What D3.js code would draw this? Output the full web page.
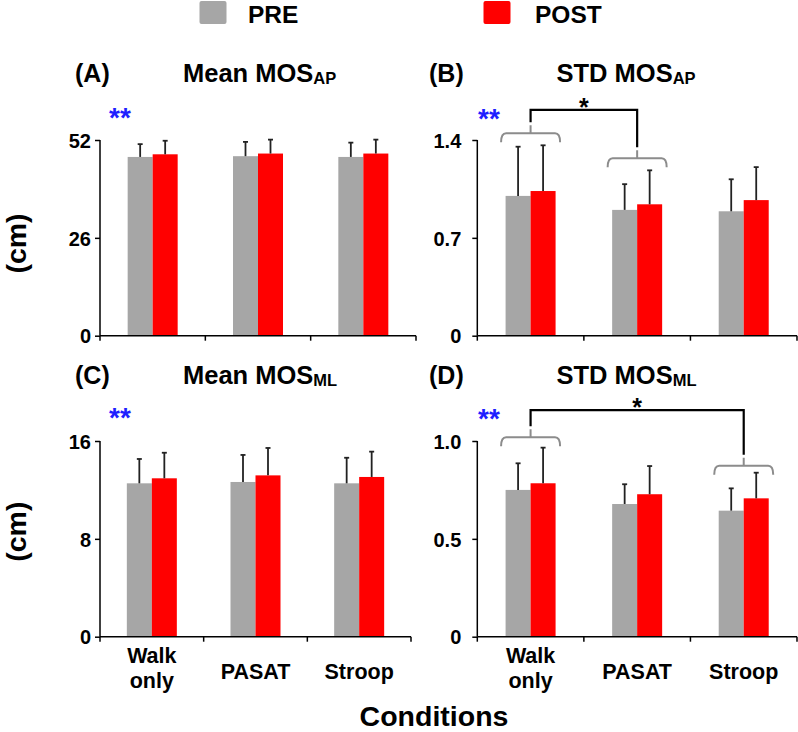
<!DOCTYPE html>
<html>
<head>
<meta charset="utf-8">
<script src="https://cdn.jsdelivr.net/npm/d3@7"></script>
<style>
  html, body { margin: 0; padding: 0; background: #fff; }
  svg { display: block; font-family: "Liberation Sans", Arial, sans-serif; }
</style>
</head>
<body>
<svg id="chart" width="798" height="732"></svg>
<script>
// ---------------- DATA ----------------
const categories = ["Walk only", "PASAT", "Stroop"];
const seriesNames = ["PRE", "POST"];

// (A) Mean MOS_AP
const meanAP_pre  = [47.5, 47.7, 47.5];
const meanAP_post = [48.2, 48.4, 48.4];
const meanAP_preSD  = [3.4, 3.8, 3.8];
const meanAP_postSD = [3.6, 3.7, 3.7];
const meanAP_ticks = [0, 26, 52];

// (B) STD MOS_AP
const stdAP_pre  = [1.00, 0.90, 0.89];
const stdAP_post = [1.035, 0.94, 0.97];
const stdAP_preSD  = [0.352, 0.184, 0.229];
const stdAP_postSD = [0.327, 0.243, 0.236];
const stdAP_ticks = [0, 0.7, 1.4];

// (C) Mean MOS_ML
const meanML_pre  = [12.54, 12.65, 12.54];
const meanML_post = [12.95, 13.19, 13.06];
const meanML_preSD  = [1.99, 2.21, 2.09];
const meanML_postSD = [2.09, 2.24, 2.07];
const meanML_ticks = [0, 8, 16];

// (D) STD MOS_ML
const stdML_pre  = [0.750, 0.678, 0.644];
const stdML_post = [0.784, 0.728, 0.707];
const stdML_preSD  = [0.136, 0.101, 0.114];
const stdML_postSD = [0.182, 0.144, 0.131];
const stdML_ticks = [0, 0.5, 1.0];

// significance annotations: brace levels (data units) per category, bracket top level
const sigB = { braces: [[0, 1.448], [1, 1.269]], from: 0, to: 1, top: 1.615 };
const sigD = { braces: [[0, 1.019], [2, 0.874]], from: 0, to: 2, top: 1.158 };

// ---------------- STYLE / LAYOUT ----------------
const colors = { PRE: "#a6a6a6", POST: "#ff0000" };
const svg = d3.select("#chart");

const panels = [
  { letter: "(A)", title: "Mean MOS", sub: "AP", pre: meanAP_pre, post: meanAP_post, preSD: meanAP_preSD, postSD: meanAP_postSD,
    ticks: meanAP_ticks, fmt: d => String(d), x0: 100, x1: 416, yTop: 140, yBot: 335.7, lblGap: 9,
    letterX: 75, titleX: 183, titleY: 82, starsX: 110, starsTop: 107, sig: null, xLabels: false, cmY: 243.5 },
  { letter: "(B)", title: "STD MOS", sub: "AP", pre: stdAP_pre, post: stdAP_post, preSD: stdAP_preSD, postSD: stdAP_postSD,
    ticks: stdAP_ticks, fmt: d => d === 0 ? "0" : d.toFixed(1), x0: 477.3, x1: 797, yTop: 140, yBot: 335.7, lblGap: 16,
    letterX: 429, titleX: 556.5, titleY: 82, starsX: 479, starsTop: 108, sig: sigB, xLabels: false, cmY: null },
  { letter: "(C)", title: "Mean MOS", sub: "ML", pre: meanML_pre, post: meanML_post, preSD: meanML_preSD, postSD: meanML_postSD,
    ticks: meanML_ticks, fmt: d => String(d), x0: 100, x1: 411, yTop: 441, yBot: 636.7, lblGap: 9,
    letterX: 75, titleX: 183, titleY: 383.5, starsX: 110, starsTop: 407, sig: null, xLabels: true, cmY: 531.7 },
  { letter: "(D)", title: "STD MOS", sub: "ML", pre: stdML_pre, post: stdML_post, preSD: stdML_preSD, postSD: stdML_postSD,
    ticks: stdML_ticks, fmt: d => d === 0 ? "0" : d.toFixed(1), x0: 477.3, x1: 797, yTop: 441, yBot: 636.7, lblGap: 16,
    letterX: 429, titleX: 556.5, titleY: 383.5, starsX: 479, starsTop: 408, sig: sigD, xLabels: true, cmY: null }
];

// ---------------- LEGEND ----------------
const legendItems = [
  { name: seriesNames[0], sx: 199.5, tx: 248 },
  { name: seriesNames[1], sx: 483.5, tx: 535 }
];
legendItems.forEach(it => {
  svg.append("rect").attr("x", it.sx).attr("y", 1).attr("width", 27).attr("height", 23)
    .attr("rx", 2).attr("fill", colors[it.name]);
  svg.append("text").attr("x", it.tx).attr("y", 22.5).attr("font-size", 24.5).attr("font-weight", "bold")
    .attr("fill", "#000").text(it.name);
});

// ---------------- PANELS ----------------
panels.forEach(p => {
  const g = svg.append("g");
  const yMax = p.ticks[p.ticks.length - 1];
  const y = d3.scaleLinear().domain([0, yMax]).range([p.yBot, p.yTop]);
  const x = d3.scaleBand().domain(categories).range([p.x0, p.x1]).paddingInner(0).paddingOuter(0);
  const bw = 25;
  const xs = d3.scaleBand().domain(seriesNames).range([x.bandwidth() / 2 - bw, x.bandwidth() / 2 + bw]);

  const rows = [];
  categories.forEach((c, i) => {
    rows.push({ cat: c, s: "PRE", v: p.pre[i], sd: p.preSD[i] });
    rows.push({ cat: c, s: "POST", v: p.post[i], sd: p.postSD[i] });
  });

  // bars
  g.selectAll("rect.bar").data(rows).enter().append("rect")
    .attr("x", d => x(d.cat) + xs(d.s))
    .attr("y", d => y(d.v))
    .attr("width", xs.bandwidth())
    .attr("height", d => y(0) - y(d.v))
    .attr("fill", d => colors[d.s]);

  // error bars (upper only)
  rows.forEach(d => {
    const cx = x(d.cat) + xs(d.s) + xs.bandwidth() / 2;
    g.append("line").attr("x1", cx).attr("x2", cx).attr("y1", y(d.v)).attr("y2", y(d.v + d.sd))
      .attr("stroke", "#222").attr("stroke-width", 1.8);
    g.append("line").attr("x1", cx - 2.5).attr("x2", cx + 2.5).attr("y1", y(d.v + d.sd)).attr("y2", y(d.v + d.sd))
      .attr("stroke", "#222").attr("stroke-width", 1.8);
  });

  // y axis
  const yAxis = d3.axisLeft(y).tickValues(p.ticks).tickSize(5).tickPadding(p.lblGap - 5).tickFormat(p.fmt);
  const ya = g.append("g").attr("transform", `translate(${p.x0},0)`).call(yAxis);
  ya.select(".domain").attr("d", `M-0.0,${p.yBot}V${p.yTop}`).attr("stroke", "#000").attr("stroke-width", 1.5);
  ya.selectAll(".tick line").attr("stroke", "#000").attr("stroke-width", 1.5);
  ya.selectAll(".tick text").attr("font-size", 20).attr("font-weight", "bold").attr("fill", "#000")
    .attr("font-family", "Liberation Sans, Arial, sans-serif").attr("dy", "0.36em");

  // x axis (ticks at band boundaries)
  g.append("line").attr("x1", p.x0).attr("x2", p.x1).attr("y1", p.yBot).attr("y2", p.yBot)
    .attr("stroke", "#000").attr("stroke-width", 1.5);
  const bounds = categories.map(c => x(c)).concat([p.x1]);
  g.selectAll("line.xt").data(bounds).enter().append("line")
    .attr("x1", d => d).attr("x2", d => d).attr("y1", p.yBot).attr("y2", p.yBot + 5)
    .attr("stroke", "#000").attr("stroke-width", 1.5);

  // titles
  g.append("text").attr("x", p.letterX).attr("y", p.titleY).attr("font-size", 25).attr("font-weight", "bold")
    .text(p.letter);
  const t = g.append("text").attr("x", p.titleX).attr("y", p.titleY).attr("font-size", 25.5).attr("font-weight", "bold");
  t.append("tspan").text(p.title);
  t.append("tspan").attr("font-size", 16.5).attr("dy", 2).text(p.sub);

  // blue stars
  const sfs = 28;
  g.append("text").attr("x", p.starsX - 1).attr("y", p.starsTop + 0.72 * sfs).attr("font-size", sfs)
    .attr("font-weight", "bold").attr("fill", "#1f1fff").text("**");

  // significance brackets
  if (p.sig) {
    const half = 29.5;
    const peakOf = {};
    p.sig.braces.forEach(([ci, lvl]) => {
      const cx = x(categories[ci]) + x.bandwidth() / 2;
      const yy = y(lvl);
      const path = `M${cx - half},${yy + 9} Q${cx - half},${yy} ${cx - half + 5},${yy} L${cx + half - 5},${yy} Q${cx + half},${yy} ${cx + half},${yy + 9} M${cx},${yy} L${cx},${yy - 8}`;
      g.append("path").attr("d", path).attr("fill", "none").attr("stroke", "#8c8c8c").attr("stroke-width", 2);
      peakOf[ci] = { cx, top: yy - 8 };
    });
    const a = peakOf[p.sig.from], b = peakOf[p.sig.to];
    const yt = y(p.sig.top);
    g.append("path").attr("d", `M${a.cx},${a.top - 3} L${a.cx},${yt} L${b.cx},${yt} L${b.cx},${b.top - 3}`)
      .attr("fill", "none").attr("stroke", "#000").attr("stroke-width", 2.2);
    g.append("text").attr("x", (a.cx + b.cx) / 2).attr("y", yt - 12 + 0.72 * 25).attr("text-anchor", "middle")
      .attr("font-size", 25).attr("font-weight", "bold").attr("fill", "#000").text("*");
  }

  // x labels
  if (p.xLabels) {
    categories.forEach(c => {
      const cx = x(c) + x.bandwidth() / 2;
      const parts = c.split(" ");
      if (parts.length === 2) {
        g.append("text").attr("x", cx).attr("y", 663).attr("text-anchor", "middle").attr("font-size", 21.5)
          .attr("font-weight", "bold").text(parts[0]);
        g.append("text").attr("x", cx).attr("y", 688).attr("text-anchor", "middle").attr("font-size", 21.5)
          .attr("font-weight", "bold").text(parts[1]);
      } else {
        g.append("text").attr("x", cx).attr("y", 679).attr("text-anchor", "middle").attr("font-size", 21.5)
          .attr("font-weight", "bold").text(c);
      }
    });
  }

  // y title
  if (p.cmY !== null) {
    g.append("text").attr("transform", `translate(26,${p.cmY}) rotate(-90)`).attr("text-anchor", "middle")
      .attr("font-size", 28.5).attr("font-weight", "bold").text("(cm)");
  }
});

// x title
svg.append("text").attr("x", 434).attr("y", 726).attr("text-anchor", "middle").attr("font-size", 28.5)
  .attr("font-weight", "bold").text("Conditions");
</script>
</body>
</html>
